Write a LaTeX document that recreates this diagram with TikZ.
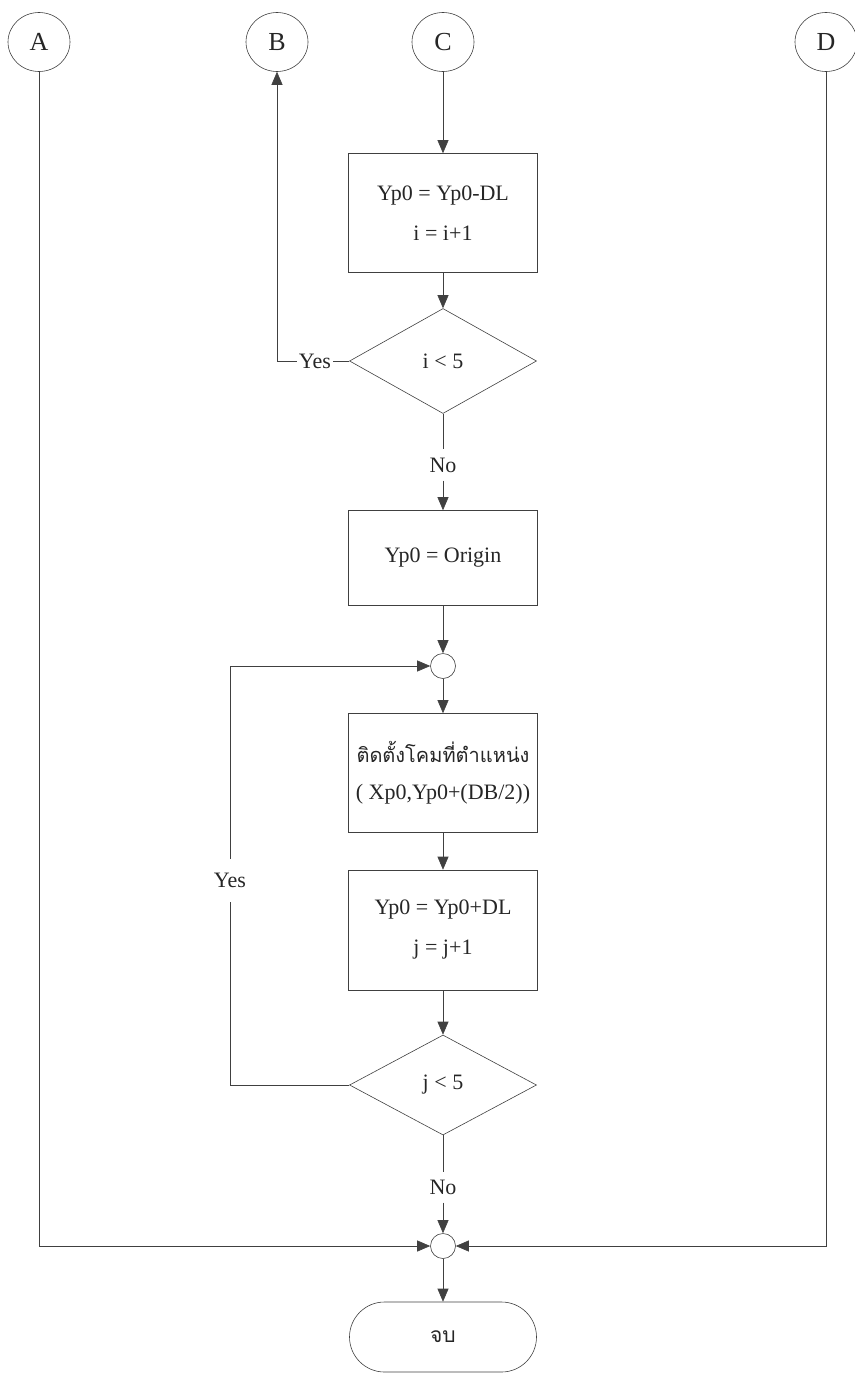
\documentclass[tikz,border=0pt]{standalone}
\usepackage{fontspec}
\setmainfont{Liberation Serif}
\newfontfamily\thaifont[Script=Thai]{Loma}
\usetikzlibrary{arrows.meta,shapes.geometric,positioning}

\begin{document}
\begin{tikzpicture}[
    % GLOBAL CFG
    x=1pt, y=-1pt,
    font=\fontsize{22}{26}\selectfont,
    >={Triangle[width=11pt,length=13pt]},
    % Styles
    proc/.style={% For the process boxes
        rectangle,
        draw=black!75,
        line width=.6pt,
        minimum width=189pt,
        align=center,
        text=black!85,
        font=\fontsize{22}{40}\selectfont,
        },
    decision/.style={% For the tests
        diamond,
        draw=black!75,
        line width=.6pt,
        minimum width=187pt,
        minimum height=105pt,
        inner sep=0pt,
        text=black!85,
        },
    joint/.style={% For the small connectors
        circle,
        draw=black!75,
        line width=.6pt,
        minimum size=25pt,
        inner sep=0pt,
        },
    offpage/.style={% For A, B, C, D
        ellipse,
        draw=black!75,
        line width=.6pt,
        minimum width=62pt,
        minimum height=59pt,
        inner sep=0pt,
        text=black!85,
        font=\fontsize{26}{30}\selectfont,
        },
    term/.style={% For the end
        rectangle,
        rounded corners=35pt,
        draw=black!75,
        line width=.6pt,
        minimum width=187pt,
        minimum height=70pt,
        text=black!85,
        },
    mylabel/.style={% Yes / No
        text=black!85,
        inner sep=2pt,
        },
    ArrowC1/.style={% Connector lines
        draw=black!75,
        line width=.6pt,
        },
    ]

\useasboundingbox (0,0) rectangle (854,1373);

%Start drawing the thing...
    % connectors on top
    \node[offpage] (A) at (39,42) {A};
    \node[offpage] (B) at (277,42) {B};
    \node[offpage] (C) at (443,42) {C};
    \node[offpage] (D) at (826,42) {D};

    % first loop
    \node[proc, minimum height=119pt] (upd1) at (443,213) {Yp0 = Yp0-DL\\ i = i+1};
    \node[decision] (chk1) at (443,361) {i < 5};
    \node[mylabel] (yes1) at (315,361) {Yes};
    \node[mylabel, inner ysep=8pt] (no1) at (443,465) {No};
    \node[proc, minimum height=95pt] (orig) at (443,558) {Yp0 = Origin};

    % second loop
    \node[joint] (j1) at (443,666) {};
    \node[proc, minimum height=119pt, font=\fontsize{22}{37}\selectfont] (mount) at (443,773)
        {{\thaifont\fontsize{20}{37}\selectfont ติดตั้งโคมที่ตำแหน่ง}\\ ( Xp0,Yp0+(DB/2))};
    \node[proc, minimum height=120pt] (upd2) at (443,930) {Yp0 = Yp0+DL\\ j = j+1};
    \node[decision, minimum height=100pt] (chk2) at (443,1085) {j < 5};
    \node[mylabel, inner ysep=14pt] (yes2) at (230,880) {Yes};
    \node[mylabel, inner ysep=8pt] (no2) at (443,1187) {No};

    % end
    \node[joint] (j2) at (443,1246) {};
    \node[term] (stop) at (443,1337) {\thaifont\fontsize{21}{24}\selectfont จบ};

    % arrows
    \draw[->, ArrowC1] (C) -- (upd1);
    \draw[->, ArrowC1] (upd1) -- (chk1);
    \draw[ArrowC1] (chk1) -- (yes1);
    \draw[->, ArrowC1] (yes1) -| (B);
    \draw[ArrowC1] (chk1) -- (no1);
    \draw[->, ArrowC1] (no1) -- (orig);
    \draw[->, ArrowC1] (orig) -- (j1);
    \draw[->, ArrowC1] (j1) -- (mount);
    \draw[->, ArrowC1] (mount) -- (upd2);
    \draw[->, ArrowC1] (upd2) -- (chk2);
    \draw[ArrowC1] (chk2) -| (yes2);
    \draw[->, ArrowC1] (yes2) |- (j1);
    \draw[ArrowC1] (chk2) -- (no2);
    \draw[->, ArrowC1] (no2) -- (j2);
    \draw[->, ArrowC1] (A) |- (j2);
    \draw[->, ArrowC1] (D) |- (j2);
    \draw[->, ArrowC1] (j2) -- (stop);
\end{tikzpicture}
\end{document}
